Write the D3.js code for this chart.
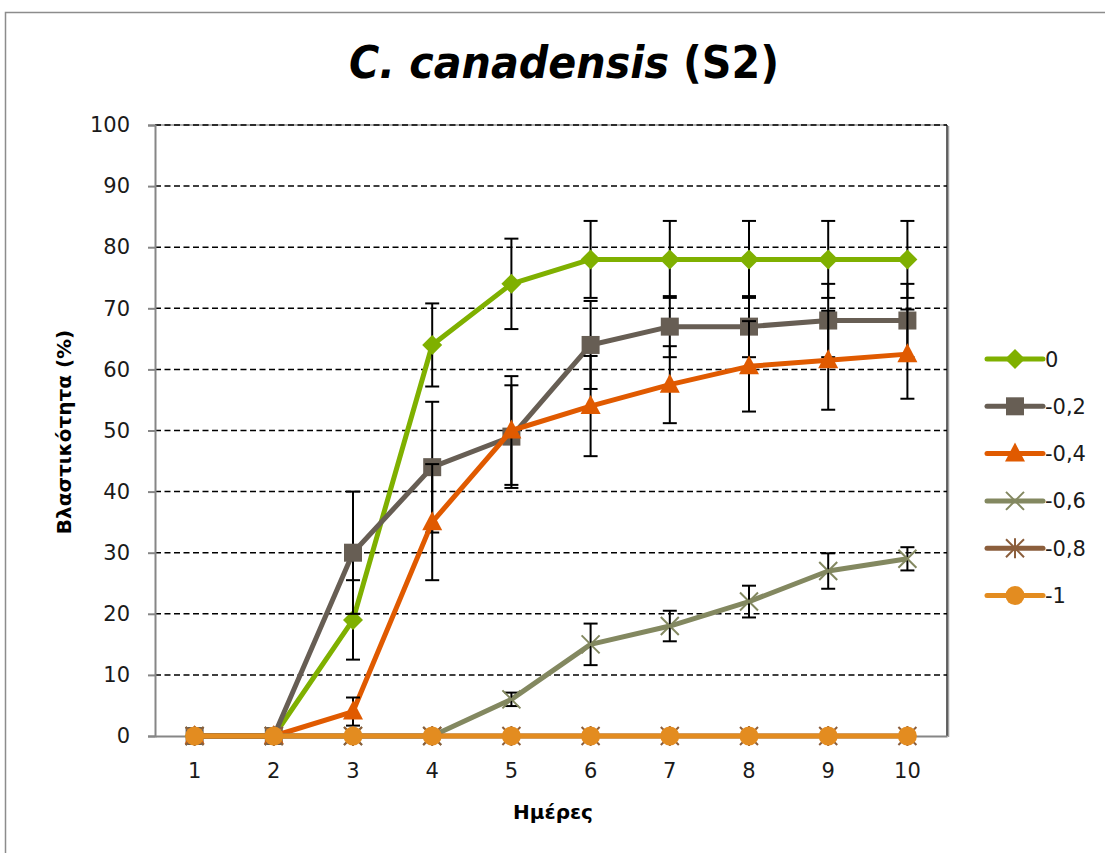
<!DOCTYPE html>
<html>
<head>
<meta charset="utf-8">
<script src="https://cdn.jsdelivr.net/npm/d3@7/dist/d3.min.js"></script>
<style>
  html, body { margin: 0; padding: 0; background: #fff; }
  svg { display: block; }
</style>
</head>
<body>
<svg id="chart" width="1105" height="853"></svg>
<script>
// ---- data ----
const days = [1, 2, 3, 4, 5, 6, 7, 8, 9, 10];
const yTicks = [0, 10, 20, 30, 40, 50, 60, 70, 80, 90, 100];
const seriesNames = ["0", "-0,2", "-0,4", "-0,6", "-0,8", "-1"];
const s0   = [0, 0, 19, 64, 74, 78, 78, 78, 78, 78];
const e0   = [0, 0, 6.5, 6.8, 7.4, 6.3, 6.3, 6.3, 6.3, 6.3];
const s02  = [0, 0, 30, 44, 49, 64, 67, 67, 68, 68];
const e02  = [0, 0, 10, 10.7, 8.4, 7.2, 5, 5, 6, 6];
const s04  = [0, 0, 4, 35, 50, 54, 57.5, 60.5, 61.5, 62.5];
const e04  = [0, 0, 2.3, 9.5, 8.9, 8.2, 6.3, 7.4, 8.1, 7.3];
const s06  = [0, 0, 0, 0, 6, 15, 18, 22, 27, 29];
const e06  = [0, 0, 0, 0, 1.1, 3.4, 2.5, 2.6, 2.9, 1.9];
const s08  = [0, 0, 0, 0, 0, 0, 0, 0, 0, 0];
const e08  = [0, 0, 0, 0, 0, 0, 0, 0, 0, 0];
const s1   = [0, 0, 0, 0, 0, 0, 0, 0, 0, 0];
const e1   = [0, 0, 0, 0, 0, 0, 0, 0, 0, 0];

const colors = ["#7fb000", "#675e54", "#e05a00", "#838860", "#8b5e3c", "#e38c20"];
const markerTypes = ["diamond", "square", "triangle", "x", "asterisk", "circle"];
const values = [s0, s02, s04, s06, s08, s1];
const errors = [e0, e02, e04, e06, e08, e1];

const series = seriesNames.map((name, i) => ({
  name, color: colors[i], marker: markerTypes[i],
  points: days.map((d, j) => ({ day: d, v: values[i][j], e: errors[i][j] }))
}));

// ---- layout ----
const svg = d3.select("#chart");
const font = "'DejaVu Sans', sans-serif";
const L = 155, R = 947, T = 125, B = 736;

const x = d3.scaleBand().domain(days).range([L, R]).padding(0);
const xc = d => x(d) + x.bandwidth() / 2;
const y = d3.scaleLinear().domain([0, 100]).range([B, T]);

// outer chart frame
svg.append("rect").attr("x", 5.5).attr("y", 12.5).attr("width", 1110).attr("height", 860)
  .attr("fill", "#fff").attr("stroke", "#8c8c8c").attr("stroke-width", 1.5);

// title (two parts: italic species name, upright suffix)
svg.append("text").attr("x", 349).attr("y", 78)
  .attr("font-family", font).attr("font-size", 44).attr("font-weight", "bold")
  .attr("font-style", "italic").attr("fill", "#000")
  .attr("textLength", 320).attr("lengthAdjust", "spacingAndGlyphs")
  .text("C. canadensis");
svg.append("text").attr("x", 683).attr("y", 78)
  .attr("font-family", font).attr("font-size", 44).attr("font-weight", "bold").attr("fill", "#000")
  .attr("textLength", 96).attr("lengthAdjust", "spacingAndGlyphs")
  .text("(S2)");

// plot area border (top + right)
svg.append("line").attr("x1", L).attr("x2", R).attr("y1", T).attr("y2", T)
  .attr("stroke", "#9a9a9a").attr("stroke-width", 1.5);
svg.append("line").attr("x1", R + 1.5).attr("x2", R + 1.5).attr("y1", T + 1).attr("y2", B + 1)
  .attr("stroke", "#a0a0a0").attr("stroke-width", 1.5);
svg.append("line").attr("x1", R).attr("x2", R).attr("y1", T).attr("y2", B)
  .attr("stroke", "#333").attr("stroke-width", 1.5);

// gridlines
svg.append("g").selectAll("line").data(yTicks.filter(t => t > 0)).join("line")
  .attr("x1", L).attr("x2", R).attr("y1", d => y(d)).attr("y2", d => y(d))
  .attr("stroke", "#000").attr("stroke-width", 1.5).attr("stroke-dasharray", "6,3.5");

// y axis
const yAxis = svg.append("g").attr("transform", `translate(${L},0)`)
  .call(d3.axisLeft(y).tickValues(yTicks).tickSize(7).tickPadding(18).tickFormat(d3.format("d")));
yAxis.select(".domain").attr("stroke", "#868686").attr("stroke-width", 2);
yAxis.selectAll(".tick line").attr("stroke", "#868686").attr("stroke-width", 2);
yAxis.selectAll("text").attr("font-family", font).attr("font-size", 21).attr("fill", "#1a1a1a");

// x axis
const xAxis = svg.append("g").attr("transform", `translate(0,${B})`)
  .call(d3.axisBottom(x).tickSize(0).tickPadding(27));
xAxis.select(".domain").attr("stroke", "#868686").attr("stroke-width", 2);
xAxis.selectAll("text").attr("font-family", font).attr("font-size", 21).attr("fill", "#1a1a1a");

// axis titles
svg.append("text").attr("x", 553).attr("y", 819).attr("text-anchor", "middle")
  .attr("font-family", font).attr("font-size", 20).attr("font-weight", "bold").text("Ημέρες");
svg.append("text").attr("transform", "translate(71,432) rotate(-90)").attr("text-anchor", "middle")
  .attr("font-family", font).attr("font-size", 20).attr("font-weight", "bold").text("Βλαστικότητα (%)");

// marker drawing
function drawMarker(g, type, cx, cy, color) {
  const s = 9;
  if (type === "diamond") {
    g.append("path").attr("d", `M${cx},${cy - s - 1}L${cx + s + 1},${cy}L${cx},${cy + s + 1}L${cx - s - 1},${cy}Z`).attr("fill", color);
  } else if (type === "square") {
    g.append("rect").attr("x", cx - s).attr("y", cy - s).attr("width", 2 * s).attr("height", 2 * s).attr("fill", color);
  } else if (type === "triangle") {
    g.append("path").attr("d", `M${cx},${cy - s - 2}L${cx + s + 1},${cy + s - 1}L${cx - s - 1},${cy + s - 1}Z`).attr("fill", color);
  } else if (type === "x") {
    g.append("path").attr("d", `M${cx - s},${cy - s}L${cx + s},${cy + s}M${cx - s},${cy + s}L${cx + s},${cy - s}`)
      .attr("stroke", color).attr("stroke-width", 2).attr("fill", "none");
  } else if (type === "asterisk") {
    g.append("path").attr("d", `M${cx - s},${cy - s}L${cx + s},${cy + s}M${cx - s},${cy + s}L${cx + s},${cy - s}M${cx},${cy - s - 1}L${cx},${cy + s + 1}`)
      .attr("stroke", color).attr("stroke-width", 2).attr("fill", "none");
  } else if (type === "circle") {
    g.append("circle").attr("cx", cx).attr("cy", cy).attr("r", s + 0.5).attr("fill", color);
  }
}

const line = d3.line().x(p => xc(p.day)).y(p => y(p.v));

series.forEach(s => {
  const g = svg.append("g");
  g.append("path").datum(s.points).attr("d", line).attr("fill", "none")
    .attr("stroke", s.color).attr("stroke-width", 5).attr("stroke-linejoin", "round");
  // error bars
  const eg = g.append("g").attr("stroke", "#000").attr("stroke-width", 2);
  s.points.filter(p => p.e > 0).forEach(p => {
    const cx = xc(p.day), y1 = y(p.v + p.e), y2 = y(p.v - p.e);
    eg.append("line").attr("x1", cx).attr("x2", cx).attr("y1", y1).attr("y2", y2);
    eg.append("line").attr("x1", cx - 7).attr("x2", cx + 7).attr("y1", y1).attr("y2", y1);
    eg.append("line").attr("x1", cx - 7).attr("x2", cx + 7).attr("y1", y2).attr("y2", y2);
  });
  s.points.forEach(p => drawMarker(g, s.marker, xc(p.day), y(p.v), s.color));
});

// legend
const legend = svg.append("g");
series.forEach((s, i) => {
  const ly = 359 + i * 47.3;
  legend.append("line").attr("x1", 987).attr("x2", 1043).attr("y1", ly).attr("y2", ly)
    .attr("stroke", s.color).attr("stroke-width", 5).attr("stroke-linecap", "round");
  drawMarker(legend, s.marker, 1015, ly, s.color);
  legend.append("text").attr("x", 1045).attr("y", ly).attr("dy", "0.36em")
    .attr("font-family", font).attr("font-size", 21).attr("fill", "#1a1a1a").text(s.name);
});
</script>
</body>
</html>
